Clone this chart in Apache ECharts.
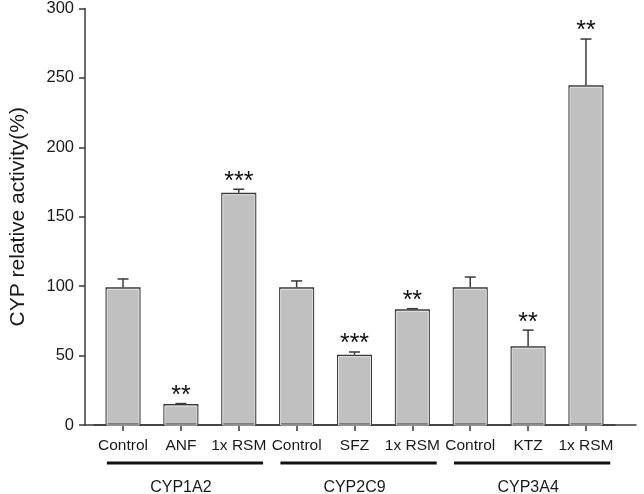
<!DOCTYPE html>
<html>
<head>
<meta charset="utf-8">
<style>html,body{margin:0;padding:0;background:#fff}#c{width:644px;height:494px}</style>
<script src="https://cdn.jsdelivr.net/npm/echarts@6/dist/echarts.min.js"></script>
</head>
<body>
<div id="c"></div>
<script>
const categories = ['Control', 'ANF', '1x RSM', 'Control', 'SFZ', '1x RSM', 'Control', 'KTZ', '1x RSM'];
const means = [98.8, 15, 166.7, 98.8, 50.5, 83, 98.8, 56.5, 243.8];
const errors = [6, 0.4, 2.5, 4.6, 1.9, 0.5, 7.4, 11.6, 33.2];
const stars = ['', '**', '***', '', '***', '**', '', '**', '**'];
const groups = ['CYP1A2', 'CYP2C9', 'CYP3A4'];
const groupSpans = [[0, 2], [3, 5], [6, 8]];
const yTicks = { min: 0, max: 300, interval: 50 };

const FONT = 'Liberation Sans, Arial, sans-serif';
const DARK = '#3a3a3a';

const chart = echarts.init(document.getElementById('c'), null, { renderer: 'canvas' });

const errData = means.map((m, i) => [i, m, errors[i]]);
const groupData = groupSpans.map(s => [s[0], 0, s[1]]);

chart.setOption({
  animation: false,
  backgroundColor: '#fff',
  grid: [
    { left: 74, right: 8, top: 7, bottom: 69 },
    { left: 94.1, right: 29.1, top: 7, bottom: 69 }
  ],
  xAxis: [
    {
      gridIndex: 0, type: 'value', min: 0, max: 1,
      axisLine: { show: true, lineStyle: { color: DARK, width: 1.5 } },
      axisTick: { show: false }, axisLabel: { show: false }, splitLine: { show: false }
    },
    {
      gridIndex: 1, type: 'category', data: categories,
      axisLine: { show: true, lineStyle: { color: DARK, width: 1.5 } },
      axisTick: { show: true, alignWithLabel: true, length: 6, lineStyle: { color: DARK, width: 1.5 } },
      axisLabel: { color: '#1a1a1a', fontSize: 15.5, fontFamily: FONT, margin: 13, interval: 0 },
      splitLine: { show: false }
    }
  ],
  yAxis: [
    {
      gridIndex: 0, type: 'value', min: yTicks.min, max: yTicks.max, interval: yTicks.interval,
      name: 'CYP relative activity(%)', nameLocation: 'middle', nameGap: 56, nameRotate: 90,
      nameTextStyle: { color: '#1a1a1a', fontSize: 21, fontFamily: FONT },
      axisLine: { show: true, lineStyle: { color: DARK, width: 1.5 } },
      axisTick: { show: true, length: 6, lineStyle: { color: DARK, width: 1.5 } },
      axisLabel: { color: '#1a1a1a', fontSize: 16.5, fontFamily: FONT, margin: 11 },
      splitLine: { show: false }
    },
    {
      gridIndex: 1, type: 'value', min: yTicks.min, max: yTicks.max, interval: yTicks.interval, show: false
    }
  ],
  series: [
    {
      type: 'bar', xAxisIndex: 1, yAxisIndex: 1, data: means, barWidth: 35,
      itemStyle: { color: '#c0c0c0', borderColor: DARK, borderWidth: 1.5 },
      z: 2
    },
    {
      type: 'custom', xAxisIndex: 1, yAxisIndex: 1, data: errData, z: 3, clip: false,
      renderItem: function (params, api) {
        const i = api.value(0), m = api.value(1), e = api.value(2);
        const base = api.coord([i, m]);
        const top = api.coord([i, m + e]);
        const zero = api.coord([i, 0]);
        const children = [
          { type: 'rect', shape: { x: base[0] - 16, y: base[1] + 2, width: 32, height: zero[1] - base[1] - 2 },
            style: { fill: 'none', stroke: '#e2e2e2', lineWidth: 1 } },
          { type: 'line', shape: { x1: top[0], y1: base[1], x2: top[0], y2: top[1] },
            style: { stroke: DARK, lineWidth: 1.5 } },
          { type: 'line', shape: { x1: top[0] - 5.5, y1: top[1], x2: top[0] + 5.5, y2: top[1] },
            style: { stroke: DARK, lineWidth: 1.5 } }
        ];
        const s = stars[params.dataIndex];
        if (s) {
          children.push({ type: 'text', style: { text: s, x: top[0], y: top[1] + 5, align: 'center', verticalAlign: 'bottom',
            font: '25px ' + FONT, fill: '#111' } });
        }
        return { type: 'group', children: children };
      }
    },
    {
      type: 'custom', xAxisIndex: 1, yAxisIndex: 1, data: groupData, z: 3, clip: false, silent: true,
      renderItem: function (params, api) {
        const a = api.value(0), b = api.value(2);
        const band = api.size([1, 0])[0];
        const p1 = api.coord([a, 0]);
        const p2 = api.coord([b, 0]);
        const mid = api.coord([(a + b) / 2, 0]);
        const y = p1[1] + 38;
        return { type: 'group', children: [
          { type: 'line', shape: { x1: p1[0] - band * 0.28, y1: y, x2: p2[0] + band * 0.42, y2: y },
            style: { stroke: '#111', lineWidth: 3 } },
          { type: 'text', style: { text: groups[params.dataIndex], x: mid[0], y: p1[1] + 63, align: 'center', verticalAlign: 'middle',
            font: '16px ' + FONT, fill: '#1a1a1a' } }
        ] };
      }
    }
  ]
});
</script>
</body>
</html>
